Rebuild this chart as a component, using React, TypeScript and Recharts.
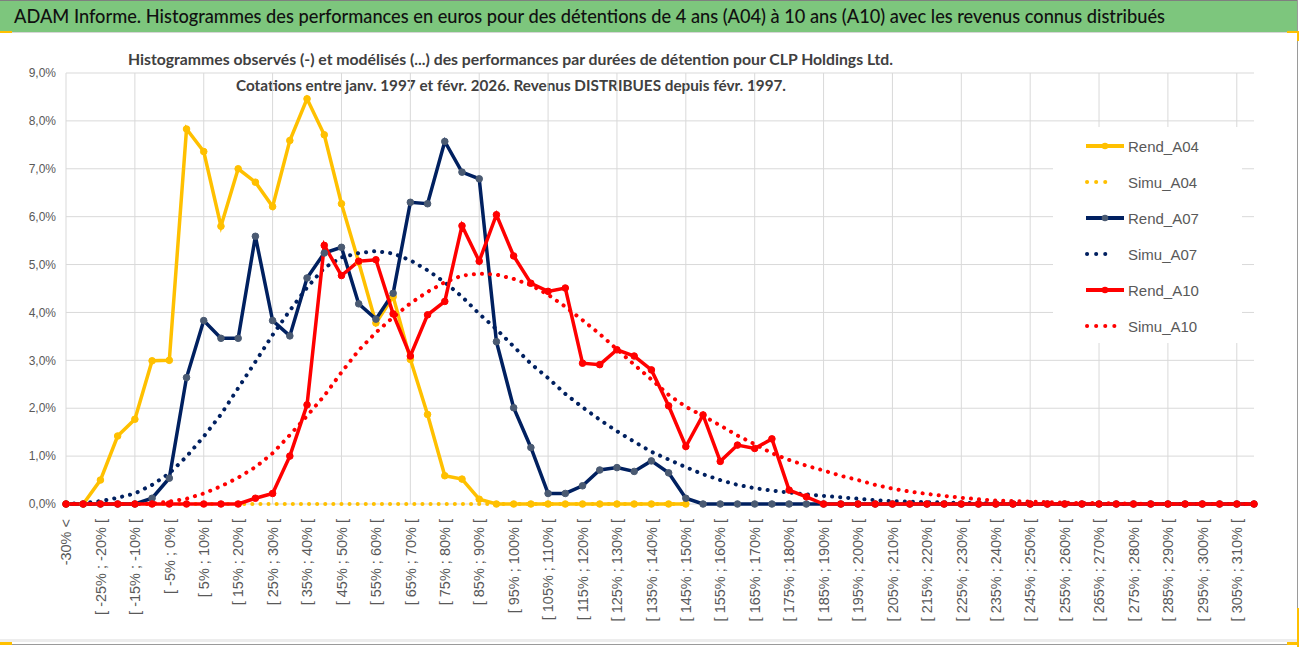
import React from 'react';
import { LineChart, Line, XAxis, YAxis, CartesianGrid, Legend } from 'recharts';

// classes of performance (x axis)
const categories = [
  '-30% <',
  '[ -30% ; -25% [', '[ -25% ; -20% [', '[ -20% ; -15% [', '[ -15% ; -10% [', '[ -10% ; -5% [',
  '[ -5% ; 0% [', '[ 0% ; 5% [', '[ 5% ; 10% [', '[ 10% ; 15% [', '[ 15% ; 20% [',
  '[ 20% ; 25% [', '[ 25% ; 30% [', '[ 30% ; 35% [', '[ 35% ; 40% [', '[ 40% ; 45% [',
  '[ 45% ; 50% [', '[ 50% ; 55% [', '[ 55% ; 60% [', '[ 60% ; 65% [', '[ 65% ; 70% [',
  '[ 70% ; 75% [', '[ 75% ; 80% [', '[ 80% ; 85% [', '[ 85% ; 90% [', '[ 90% ; 95% [',
  '[ 95% ; 100% [', '[ 100% ; 105% [', '[ 105% ; 110% [', '[ 110% ; 115% [', '[ 115% ; 120% [',
  '[ 120% ; 125% [', '[ 125% ; 130% [', '[ 130% ; 135% [', '[ 135% ; 140% [', '[ 140% ; 145% [',
  '[ 145% ; 150% [', '[ 150% ; 155% [', '[ 155% ; 160% [', '[ 160% ; 165% [', '[ 165% ; 170% [',
  '[ 170% ; 175% [', '[ 175% ; 180% [', '[ 180% ; 185% [', '[ 185% ; 190% [', '[ 190% ; 195% [',
  '[ 195% ; 200% [', '[ 200% ; 205% [', '[ 205% ; 210% [', '[ 210% ; 215% [', '[ 215% ; 220% [',
  '[ 220% ; 225% [', '[ 225% ; 230% [', '[ 230% ; 235% [', '[ 235% ; 240% [', '[ 240% ; 245% [',
  '[ 245% ; 250% [', '[ 250% ; 255% [', '[ 255% ; 260% [', '[ 260% ; 265% [', '[ 265% ; 270% [',
  '[ 270% ; 275% [', '[ 275% ; 280% [', '[ 280% ; 285% [', '[ 285% ; 290% [', '[ 290% ; 295% [',
  '[ 295% ; 300% [', '[ 300% ; 305% [', '[ 305% ; 310% [', '> 310%',
];

// values in %
const rendA04 = [
  0, 0, 0.5, 1.42, 1.77, 2.99, 3.0, 7.83, 7.36, 5.8,
  7.0, 6.72, 6.21, 7.59, 8.46, 7.71, 6.27, 5.05, 3.78, 4.33,
  3.02, 1.87, 0.59, 0.52, 0.1, 0, 0, 0, 0, 0,
  0, 0, 0, 0, 0, 0, 0, null, null, null,
  null, null, null, null, null, null, null, null, null, null,
  null, null, null, null, null, null, null, null, null, null,
  null, null, null, null, null, null, null, null, null, null,
];
const simuA04 = [
  0, 0, 0, 0, 0, 0, 0, 0, 0, 0,
  0, 0, 0, 0, 0, 0, 0, 0, 0, 0,
  0, 0, 0, 0, 0, 0, 0, 0, 0, 0,
  0, 0, 0, 0, 0, 0, 0, null, null, null,
  null, null, null, null, null, null, null, null, null, null,
  null, null, null, null, null, null, null, null, null, null,
  null, null, null, null, null, null, null, null, null, null,
];
const rendA07 = [
  0, 0, 0, 0, 0, 0.12, 0.54, 2.64, 3.83, 3.46,
  3.46, 5.59, 3.83, 3.51, 4.72, 5.24, 5.36, 4.18, 3.86, 4.4,
  6.3, 6.27, 7.57, 6.93, 6.79, 3.39, 2.01, 1.18, 0.22, 0.22,
  0.38, 0.71, 0.76, 0.68, 0.9, 0.65, 0.12, 0, 0, 0,
  0, 0, 0, 0, 0, 0, 0, 0, 0, 0,
  0, 0, 0, 0, 0, 0, 0, 0, 0, 0,
  0, 0, 0, 0, 0, 0, 0, 0, 0, 0,
];
const simuA07 = [
  0, 0.02, 0.06, 0.13, 0.22, 0.4, 0.64, 0.99, 1.41, 1.87,
  2.42, 2.97, 3.53, 4.04, 4.52, 4.93, 5.15, 5.24, 5.28, 5.23,
  5.09, 4.88, 4.63, 4.33, 3.97, 3.65, 3.29, 2.93, 2.63, 2.3,
  2.02, 1.76, 1.52, 1.3, 1.09, 0.93, 0.77, 0.62, 0.5, 0.4,
  0.33, 0.28, 0.24, 0.2, 0.17, 0.14, 0.11, 0.08, 0.06, 0.05,
  0.04, 0.03, 0.02, 0.02, 0.01, 0.01, 0, 0, 0, 0,
  0, 0, 0, 0, 0, 0, 0, 0, 0, 0,
];
const rendA10 = [
  0, 0, 0, 0, 0, 0, 0, 0, 0, 0,
  0, 0.12, 0.22, 1.0, 2.07, 5.4, 4.77, 5.07, 5.1, 3.97,
  3.09, 3.95, 4.23, 5.81, 5.07, 6.04, 5.18, 4.61, 4.44, 4.51,
  2.94, 2.91, 3.22, 3.09, 2.8, 2.05, 1.2, 1.86, 0.89, 1.23,
  1.16, 1.36, 0.29, 0.15, 0, 0, 0, 0, 0, 0,
  0, 0, 0, 0, 0, 0, 0, 0, 0, 0,
  0, 0, 0, 0, 0, 0, 0, 0, 0, 0,
];
const simuA10 = [
  0, 0, 0, 0, 0, 0.01, 0.05, 0.11, 0.22, 0.37,
  0.55, 0.77, 1.06, 1.44, 1.84, 2.26, 2.75, 3.21, 3.58, 3.9,
  4.19, 4.43, 4.63, 4.77, 4.81, 4.79, 4.7, 4.57, 4.37, 4.12,
  3.84, 3.55, 3.23, 2.91, 2.6, 2.28, 2.03, 1.84, 1.64, 1.43,
  1.25, 1.06, 0.92, 0.8, 0.7, 0.59, 0.5, 0.4, 0.32, 0.26,
  0.21, 0.17, 0.13, 0.1, 0.07, 0.06, 0.05, 0.04, 0.03, 0.02,
  0.02, 0.01, 0.01, 0, 0, 0, 0, 0, 0, 0,
];

const yTicks = [0, 1, 2, 3, 4, 5, 6, 7, 8, 9];

const title =
  'ADAM Informe. Histogrammes des performances en euros pour des détentions de 4 ans (A04) à 10 ans (A10) avec les revenus connus distribués';
const subtitle1 =
  'Histogrammes observés (-) et modélisés (...) des performances par durées de détention pour CLP Holdings Ltd.';
const subtitle2 = 'Cotations entre janv. 1997 et févr. 2026. Revenus DISTRIBUES depuis févr. 1997.';

const data = categories.map((cat, i) => ({
  cat,
  Rend_A04: rendA04[i],
  Simu_A04: simuA04[i],
  Rend_A07: rendA07[i],
  Simu_A07: simuA07[i],
  Rend_A10: rendA10[i],
  Simu_A10: simuA10[i],
}));

const YELLOW = '#FFC000';
const NAVY = '#002060';
const RED = '#FF0000';
const SLATE = '#4A5A72';
const TXT = '#595959';
const FONT = "'Liberation Sans', Arial, sans-serif";
const TITLE_FONT = "Lato, 'Open Sans', sans-serif";

const series = [
  { key: 'Rend_A04', color: YELLOW, marker: YELLOW, dotted: false, n: 0 },
  { key: 'Simu_A04', color: YELLOW, marker: YELLOW, dotted: true, n: 4 },
  { key: 'Rend_A07', color: NAVY, marker: SLATE, dotted: false, n: 0 },
  { key: 'Simu_A07', color: NAVY, marker: NAVY, dotted: true, n: 4 },
  { key: 'Rend_A10', color: RED, marker: RED, dotted: false, n: 0 },
  { key: 'Simu_A10', color: RED, marker: RED, dotted: true, n: 5 },
];

const XTick = (props: any) => {
  const { x, y, payload } = props;
  return (
    <g transform={`translate(${x},${y})`}>
      <text
        transform="rotate(-90)"
        x={-15}
        y={0}
        dy="0.36em"
        textAnchor="end"
        fontSize={14.5}
        fill={TXT}
        fontFamily={FONT}
      >
        {payload.value}
      </text>
    </g>
  );
};

// vertical grid every 4 classes, positioned by the x scale
const gridX = (arg: any) => {
  const sc = arg && arg.xAxis && arg.xAxis.scale;
  const off = arg.offset;
  const pos = (c: string, i: number) => {
    if (typeof sc === 'function') return sc(c);
    if (sc && typeof sc.map === 'function') return sc.map(c);
    return off.left + (i * off.width) / (categories.length - 1);
  };
  return categories
    .map((c, i) => ({ c, i }))
    .filter((d) => d.i % 4 === 0)
    .map((d) => pos(d.c, d.i));
};

const LegendBox = () => (
  <div style={{ paddingTop: 1 }}>
    {series.map((s) => (
      <div key={s.key} style={{ height: 36, display: 'flex', alignItems: 'center' }}>
        <svg width={75} height={12} style={{ display: 'block' }}>
          {s.dotted ? (
            <line
              x1={34}
              x2={34 + (s.n - 1) * 9}
              y1={6}
              y2={6}
              stroke={s.color}
              strokeWidth={4}
              strokeDasharray="0.1 9"
              strokeLinecap="round"
            />
          ) : (
            <g>
              <line x1={33} x2={71} y1={6} y2={6} stroke={s.color} strokeWidth={4} />
              <circle cx={52} cy={6} r={3.3} fill={s.marker} />
            </g>
          )}
        </svg>
        <span style={{ fontFamily: FONT, fontSize: 15, color: TXT, marginLeft: 0 }}>{s.key}</span>
      </div>
    ))}
  </div>
);

export default function App() {
  return (
    <div style={{ position: 'absolute', left: 0, top: 0, width: 1302, height: 647, background: '#fff', overflow: 'hidden' }}>
      <svg width={1302} height={647} style={{ position: 'absolute', left: 0, top: 0 }}>
        <rect x={0} y={0} width={1298} height={32} fill="#7DC67D" />
        <line x1={0} x2={1298} y1={0.5} y2={0.5} stroke="#7f7f7f" />
        <line x1={0} x2={1298} y1={32.5} y2={32.5} stroke="#d6d6d6" />
        <rect x={0} y={639} width={1297} height={3} fill="#ededed" />
        <line x1={0} x2={1298} y1={644.5} y2={644.5} stroke="#9a9a9a" />
        <line x1={1297.5} x2={1297.5} y1={0} y2={647} stroke="#9a9a9a" />
        <rect x={0} y={31} width={12} height={2} fill={YELLOW} />
        <rect x={1287} y={31} width={12} height={2} fill={YELLOW} />
        <rect x={1297} y={31} width={2} height={10} fill={YELLOW} />
        <rect x={0} y={642} width={12} height={3} fill={YELLOW} />
        <rect x={1297} y={608} width={2} height={39} fill={YELLOW} />
        <rect x={1287} y={642} width={12} height={3} fill={YELLOW} />
        <text
          x={14}
          y={23}
          textLength={1151}
          lengthAdjust="spacingAndGlyphs"
          fontSize={19.5}
          fontFamily={TITLE_FONT}
          fontWeight={500}
          fill="#111"
        >
          {title}
        </text>
        <text
          x={128}
          y={65}
          textLength={765}
          lengthAdjust="spacingAndGlyphs"
          fontSize={16}
          fontFamily={TITLE_FONT}
          fontWeight={700}
          fill="#404040"
        >
          {subtitle1}
        </text>
        <text
          x={236}
          y={91}
          textLength={550}
          lengthAdjust="spacingAndGlyphs"
          fontSize={16}
          fontFamily={TITLE_FONT}
          fontWeight={700}
          fill="#404040"
        >
          {subtitle2}
        </text>
      </svg>
      <div style={{ position: 'absolute', left: 0, top: 0 }}>
        <LineChart width={1302} height={647} data={data} margin={{ top: 73, right: 48, bottom: 0, left: 0 }}>
          <CartesianGrid stroke="#d9d9d9" strokeWidth={1} verticalCoordinatesGenerator={gridX} />
          <XAxis
            dataKey="cat"
            interval={1}
            height={143}
            tick={<XTick />}
            tickLine={false}
            axisLine={false}
            tickSize={0}
            tickMargin={0}
          />
          <YAxis
            width={66}
            domain={[0, 9]}
            ticks={yTicks}
            tickFormatter={(v: number) => v.toFixed(1).replace('.', ',') + '%'}
            tick={{ fontSize: 12, fill: TXT, fontFamily: FONT }}
            tickLine={false}
            axisLine={false}
            tickSize={0}
            tickMargin={10}
          />
          <Legend
            layout="vertical"
            align="center"
            verticalAlign="middle"
            content={<LegendBox />}
            wrapperStyle={{ left: 1053, top: 127, width: 189, height: 216, background: '#fff' }}
          />
          {series.map((s) =>
            s.dotted ? (
              <Line
                key={s.key}
                dataKey={s.key}
                type="linear"
                stroke={s.color}
                strokeWidth={4}
                strokeDasharray="0.1 8"
                strokeLinecap="round"
                dot={false}
                activeDot={false}
                isAnimationActive={false}
              />
            ) : (
              <Line
                key={s.key}
                dataKey={s.key}
                type="linear"
                stroke={s.color}
                strokeWidth={3.5}
                dot={{ r: 3.3, fill: s.marker, stroke: s.marker, strokeWidth: 1 }}
                activeDot={false}
                isAnimationActive={false}
              />
            )
          )}
        </LineChart>
      </div>
    </div>
  );
}
